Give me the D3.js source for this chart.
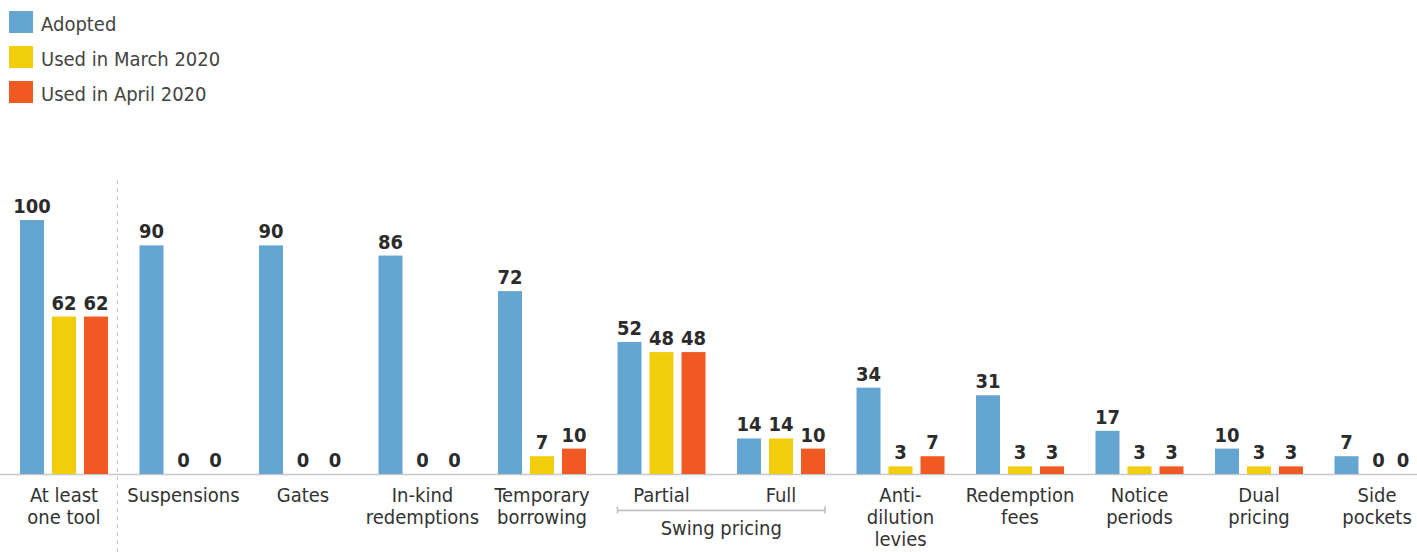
<!DOCTYPE html>
<html><head><meta charset="utf-8">
<script src="https://cdn.jsdelivr.net/npm/d3@7"></script>
<style>
html,body{margin:0;padding:0;background:#fff;}
svg{display:block;font-family:"DejaVu Sans Condensed","DejaVu Sans",sans-serif;}
</style></head>
<body>
<svg id="chart" width="1417" height="552"></svg>
<script>
const categories = ["At least\none tool","Suspensions","Gates","In-kind\nredemptions","Temporary\nborrowing","Partial","Full","Anti-\ndilution\nlevies","Redemption\nfees","Notice\nperiods","Dual\npricing","Side\npockets"];
const seriesNames = ["Adopted","Used in March 2020","Used in April 2020"];
const adopted = [100,90,90,86,72,52,14,34,31,17,10,7];
const usedMarch = [62,0,0,0,7,48,14,3,3,3,3,0];
const usedApril = [62,0,0,0,10,48,10,7,3,3,3,0];
const colors = ["#64a6d1","#f2cd0c","#f05a22"];
const groupLabel = {text:"Swing pricing", from:"Partial", to:"Full"};

const svg = d3.select("#chart");
const W = 1417, H = 552;
const baseY = 474;
const y = d3.scaleLinear().domain([0,100]).range([baseY,220]);
const keys = categories.map((c,i)=>i);
const x0 = d3.scaleBand().domain(keys).range([20, 20+12*119.5]).paddingInner(0).paddingOuter(0);
const x1 = d3.scaleBand().domain([0,1,2]).range([0,88]).paddingInner(0.25).paddingOuter(0);
const series = [adopted, usedMarch, usedApril];

// legend
const leg = svg.append("g");
seriesNames.forEach((n,i)=>{
  leg.append("rect").attr("x",9).attr("y",11+i*35).attr("width",24).attr("height",22).attr("fill",colors[i]);
  leg.append("text").attr("x",41).attr("y",31+i*35).attr("font-size",20).attr("fill","#444").text(n);
});

// separator
svg.append("line").attr("x1",117.5).attr("x2",117.5).attr("y1",180).attr("y2",552)
  .attr("stroke","#c8c8c8").attr("stroke-dasharray","4,4").attr("stroke-width",1);

// axis line
svg.append("line").attr("x1",0).attr("x2",W).attr("y1",baseY+0.5).attr("y2",baseY+0.5)
  .attr("stroke","#c8c8c8").attr("stroke-width",1.5);

// bars
const g = svg.append("g");
keys.forEach(k=>{
  series.forEach((s,si)=>{
    const v = s[k];
    const bx = x0(k)+x1(si);
    const bw = x1.bandwidth();
    g.append("rect").attr("x",bx).attr("y",y(v)).attr("width",bw).attr("height",baseY-y(v)).attr("fill",colors[si]);
    g.append("text").attr("x",Math.min(bx+bw/2, W-14)).attr("y",y(v)-7).attr("text-anchor","middle")
      .attr("font-size",20).attr("font-weight","bold").attr("fill","#2b2b2b").text(v);
  });
});

// category labels
keys.forEach(k=>{
  const cx = Math.min(x0(k)+44, W-40);
  const t = svg.append("text").attr("x",cx).attr("y",502).attr("text-anchor","middle")
    .attr("font-size",20).attr("fill","#333");
  categories[k].split("\n").forEach((line,li)=>{
    t.append("tspan").attr("x",cx).attr("dy",li===0?0:22).text(line);
  });
});

// swing pricing bracket
const i0 = categories.indexOf(groupLabel.from), i1 = categories.indexOf(groupLabel.to);
const bx0 = x0(i0), bx1 = x0(i1)+88;
const by = 510.5;
svg.append("path").attr("d",`M${bx0},${by-4}V${by+3}M${bx0},${by}H${bx1}M${bx1},${by-4}V${by+3}`)
  .attr("fill","none").attr("stroke","#bbb").attr("stroke-width",1.5);
svg.append("text").attr("x",(bx0+bx1)/2).attr("y",535).attr("text-anchor","middle")
  .attr("font-size",20).attr("fill","#333").text(groupLabel.text);
</script>
</body></html>
